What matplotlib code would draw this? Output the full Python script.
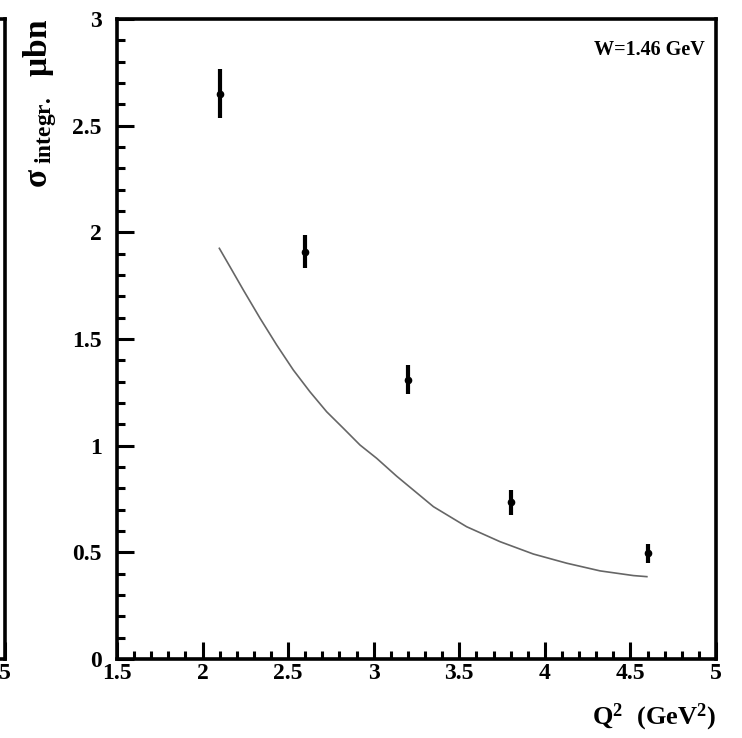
import numpy as np
import matplotlib
matplotlib.use("Agg")
import matplotlib.pyplot as plt
from matplotlib.ticker import MultipleLocator

# measured integrated cross section at W = 1.46 GeV
q2_data = [2.1, 2.6, 3.2, 3.8, 4.6]
sigma_data = [2.65, 1.91, 1.31, 0.735, 0.495]
sigma_err = [0.115, 0.076, 0.07, 0.058, 0.043]

# model curve
q2_model = [2.098, 2.16, 2.238, 2.336, 2.433, 2.53, 2.627, 2.725, 2.822, 2.92,
            3.017, 3.134, 3.349, 3.543, 3.738, 3.933, 4.128, 4.323, 4.518, 4.596]
sigma_model = [1.925, 1.839, 1.73, 1.597, 1.472, 1.355, 1.253, 1.159, 1.082, 1.003,
               0.941, 0.857, 0.714, 0.62, 0.55, 0.492, 0.449, 0.413, 0.391, 0.386]

plt.rcParams["font.family"] = ["Liberation Serif", "DejaVu Serif"]
plt.rcParams["font.weight"] = "bold"
plt.rcParams["mathtext.fontset"] = "custom"
plt.rcParams["mathtext.rm"] = "Liberation Serif:bold"
plt.rcParams["mathtext.it"] = "Liberation Serif:italic:bold"
plt.rcParams["mathtext.bf"] = "Liberation Serif:bold"

fig = plt.figure(figsize=(7.42, 7.38), dpi=100)
left, bottom = 117 / 742, 79 / 738
width, height = 599 / 742, 640 / 738


def style_axes(ax):
    for s in ax.spines.values():
        s.set_linewidth(2.6)
    ax.tick_params(which="both", direction="in", top=False, right=False,
                   width=2.2, labelsize=17)
    ax.tick_params(which="major", length=12)
    ax.tick_params(which="minor", length=6)
    ax.tick_params(axis="y", pad=11)
    ax.tick_params(axis="x", pad=3)


# neighbouring panel, mostly outside the canvas
ax0 = fig.add_axes([left - width - 0.1505, bottom, width, height])
ax0.set_xlim(1.5, 5)
ax0.set_ylim(0, 3)
ax0.set_xticks([5])
ax0.xaxis.set_major_formatter(lambda v, p: f"{v:g}")
ax0.set_yticks([])
style_axes(ax0)

ax = fig.add_axes([left, bottom, width, height])
ax.set_xlim(1.5, 5)
ax.set_ylim(0, 3)
ax.xaxis.set_major_locator(MultipleLocator(0.5))
ax.xaxis.set_minor_locator(MultipleLocator(0.1))
ax.yaxis.set_major_locator(MultipleLocator(0.5))
ax.yaxis.set_minor_locator(MultipleLocator(0.1))
ax.xaxis.set_major_formatter(lambda v, p: f"{v:g}")
ax.yaxis.set_major_formatter(lambda v, p: f"{v:g}")
style_axes(ax)

ax.plot(q2_model, sigma_model, color="#666666", lw=1.2)
ax.errorbar(q2_data, sigma_data, yerr=sigma_err, fmt="o", color="black",
            ms=4.5, elinewidth=3.0, capsize=0)

ax.text(0.982, 0.951, "W=1.46 GeV", transform=ax.transAxes, ha="right",
        va="center", fontsize=14.5, fontweight="bold")

ax.set_xlabel(r"$\rm Q^2\ \ (GeV^2)$", fontsize=19, loc="right")
ax.xaxis.set_label_coords(1.0, -0.066)
ax.set_ylabel(r"$\rm σ_{\ integr.}\ \ \mu bn$", fontsize=24, loc="top")
ax.yaxis.set_label_coords(-0.097, 1.0)

fig.savefig("out.png", dpi=100)
